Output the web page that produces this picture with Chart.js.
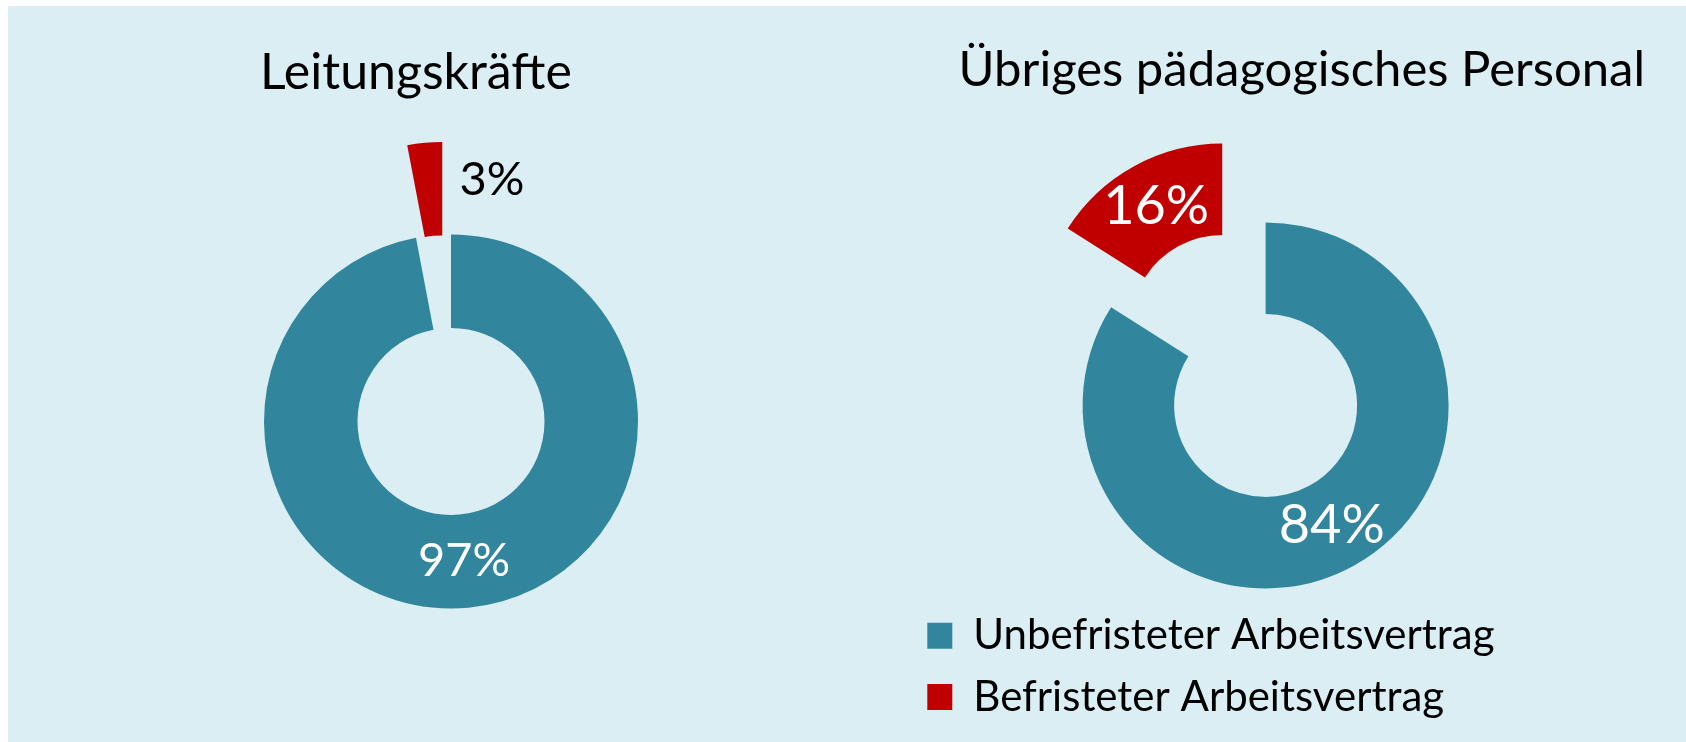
<!DOCTYPE html>
<html lang="de">
<head>
<meta charset="utf-8">
<title>Arbeitsverträge</title>
<script src="https://cdn.jsdelivr.net/npm/chart.js@4.4.1/dist/chart.umd.min.js"></script>
<style>
  html, body { margin: 0; padding: 0; background: #fff; }
  #frame { position: absolute; left: 8px; top: 6px; width: 1678px; height: 736px; background: #DAEEF3; }
  canvas { position: absolute; top: 0; }
  #left-chart { left: 0; }
  #right-chart { left: 843px; }
</style>
</head>
<body>
<div id="frame"></div>
<canvas id="left-chart" width="843" height="742"></canvas>
<canvas id="right-chart" width="843" height="742"></canvas>
<script>
const categories = ['Unbefristeter Arbeitsvertrag', 'Befristeter Arbeitsvertrag'];
const leitungValues = [97, 3];
const personalValues = [84, 16];
const chartTitles = ['Leitungskräfte', 'Übriges pädagogisches Personal'];
const sliceColors = ['#31859C', '#C00000'];

const FONT = 'Lato';
Chart.defaults.font.family = FONT;
Chart.defaults.color = '#000';

// pulls single slices away from the centre (pure shift, like an exploded pie)
const explode = {
  id: 'explode',
  beforeDatasetDraw(chart, args, opts) {
    const ctx = chart.ctx;
    args.meta.data.forEach((arc, i) => {
      const d = (opts.distance && opts.distance[i]) || 0;
      const mid = (arc.startAngle + arc.endAngle) / 2;
      ctx.save();
      ctx.translate(Math.cos(mid) * d, Math.sin(mid) * d);
      arc.draw(ctx, chart.chartArea);
      ctx.restore();
    });
    return false;
  }
};

// percentage labels in the middle of each ring segment
const sliceLabels = {
  id: 'sliceLabels',
  afterDatasetsDraw(chart, args, opts) {
    const ctx = chart.ctx;
    const meta = chart.getDatasetMeta(0);
    const values = chart.data.datasets[0].data;
    const dist = chart.options.plugins.explode.distance || [];
    meta.data.forEach((arc, i) => {
      const mid = (arc.startAngle + arc.endAngle) / 2;
      const r = (arc.innerRadius + arc.outerRadius) / 2 + (dist[i] || 0);
      const shift = (opts.shift && opts.shift[i]) || [0, 0];
      ctx.save();
      ctx.font = opts.sizes[i] + 'px ' + FONT;
      ctx.fillStyle = opts.colors[i];
      ctx.textAlign = 'center';
      ctx.textBaseline = 'middle';
      ctx.fillText(values[i] + '%', arc.x + Math.cos(mid) * r + shift[0], arc.y + Math.sin(mid) * r + shift[1]);
      ctx.restore();
    });
  }
};

const makeDonut = (id, values, title, cfg) => {
  const ctx = document.getElementById(id).getContext('2d');
  return new Chart(ctx, {
    type: 'doughnut',
    data: {
      labels: categories,
      datasets: [{
        data: values,
        backgroundColor: sliceColors,
        borderWidth: 0
      }]
    },
    options: {
      responsive: false,
      animation: false,
      events: [],
      radius: cfg.radius,
      cutout: '50%',
      layout: { padding: cfg.padding },
      plugins: {
        title: {
          display: true,
          text: title,
          align: cfg.titleAlign,
          color: '#000',
          font: { size: cfg.titleSize, weight: 'normal' },
          padding: cfg.titlePadding
        },
        // empty box on the right, only used to push the ring left of the title
        subtitle: cfg.spacer || { display: false },
        legend: cfg.legend,
        tooltip: { enabled: false },
        explode: { distance: cfg.explode },
        sliceLabels: cfg.labels
      }
    },
    plugins: [explode, sliceLabels]
  });
};

makeDonut('left-chart', leitungValues, chartTitles[0], {
  radius: 187,
  padding: { left: 260, right: 201, top: 0, bottom: 0 },
  titleAlign: 'start',
  titleSize: 50,
  titlePadding: { top: 43, bottom: -2 },
  legend: { display: false },
  explode: [0, 93],
  labels: { sizes: [47, 47], colors: ['#fff', '#000'], shift: [[0, 0], [63, -9]] }
});

makeDonut('right-chart', personalValues, chartTitles[1], {
  radius: 183,
  padding: { left: 65, right: 41, top: 0, bottom: 14 },
  titleAlign: 'end',
  titleSize: 49,
  titlePadding: { top: 41, bottom: 115.6 },
  spacer: { display: true, position: 'right', text: '', font: { size: 10 }, padding: { top: 4.9, bottom: 4.9 } },
  legend: {
    display: true,
    position: 'bottom',
    align: 'start',
    labels: {
      boxWidth: 25,
      boxHeight: 26,
      padding: 19.3,
      color: '#000',
      font: { size: 42 }
    }
  },
  explode: [0, 90],
  labels: { sizes: [54, 54], colors: ['#fff', '#fff'], shift: [[0, 0], [0, 0]] }
});
</script>
</body>
</html>
